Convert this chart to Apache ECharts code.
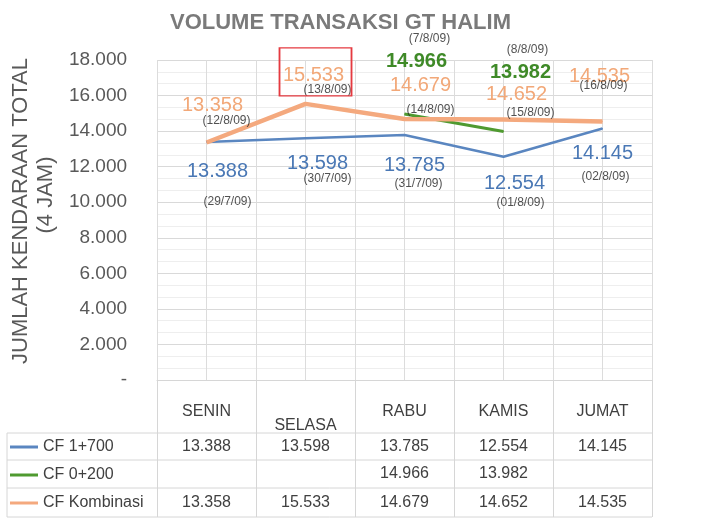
<!DOCTYPE html>
<html>
<head>
<meta charset="utf-8">
<script src="https://cdn.jsdelivr.net/npm/echarts@6/dist/echarts.min.js"></script>
<style>
  html, body { margin: 0; padding: 0; background: #ffffff; }
  #chart { width: 723px; height: 522px; }
</style>
</head>
<body>
<div id="chart"></div>
<script>
// data
var categories = ['SENIN', 'SELASA', 'RABU', 'KAMIS', 'JUMAT'];
var seriesNames = ['CF 1+700', 'CF 0+200', 'CF Kombinasi'];
var cf1700 = [13388, 13598, 13785, 12554, 14145];
var cf0200 = [null, null, 14966, 13982, null];
var cfKombinasi = [13358, 15533, 14679, 14652, 14535];
var cf1700Dates = ['(29/7/09)', '(30/7/09)', '(31/7/09)', '(01/8/09)', '(02/8/09)'];
var cf0200Dates = [null, null, '(7/8/09)', '(8/8/09)', null];
var cfKombinasiDates = ['(12/8/09)', '(13/8/09)', '(14/8/09)', '(15/8/09)', '(16/8/09)'];
var yMin = 0, yMax = 18000, yStep = 2000;

// label placement (pixels, relative to the point)
var blueValOff = [[11, 29], [12, 25], [10, 31], [11, 27], [0, 25]];
var blueDateOff = [[21, 60], [22, 40], [14, 49], [17, 46], [3, 48]];
var orangeValOff = [[6, -37], [8, -28], [16, -34], [13, -25], [-3, -45]];
var orangeDateOff = [[20, -22], [22, -14], [26, -9], [27, -7], [1, -36]];
var greenValOff = [null, null, [12, -52], [17, -59], null];
var greenDateOff = [null, null, [25, -75], [24, -82], null];

var BLUE = '#5a86c0', GREEN = '#4f9a30', ORANGE = '#f4a97e';
var FONT = 'Liberation Sans, Arial, sans-serif';

function fmt(v) {
  if (v == null) return '';
  return String(v).replace(/\B(?=(\d{3})+(?!\d))/g, '.');
}

function valueData(values, offsets) {
  return values.map(function (v, i) {
    if (v == null) return null;
    return { value: v, label: { offset: offsets[i] } };
  });
}

function lineSeries(name, values, offsets, color, width, labelColor, bold) {
  return {
    name: name,
    type: 'line',
    xAxisIndex: 0,
    data: valueData(values, offsets),
    symbol: 'circle',
    symbolSize: 1,
    showSymbol: true,
    connectNulls: false,
    lineStyle: { color: color, width: width },
    itemStyle: { color: color },
    label: {
      show: true,
      position: 'inside',
      formatter: function (p) { return fmt(p.value); },
      fontFamily: FONT,
      fontSize: 20,
      fontWeight: bold ? 'bold' : 'normal',
      color: labelColor
    },
    emphasis: { disabled: true },
    z: 3
  };
}

function dateSeries(values, dates, offsets) {
  return {
    type: 'scatter',
    xAxisIndex: 0,
    data: valueData(values, offsets),
    symbolSize: 1,
    itemStyle: { color: 'rgba(0,0,0,0)' },
    label: {
      show: true,
      position: 'inside',
      formatter: function (p) { return dates[p.dataIndex]; },
      fontFamily: FONT,
      fontSize: 12,
      color: '#262626'
    },
    emphasis: { disabled: true },
    z: 4
  };
}

function tableAxis(values, offset) {
  return {
    type: 'category',
    data: values.map(fmt),
    position: 'bottom',
    offset: offset,
    axisLine: { show: false },
    axisTick: { show: false },
    splitLine: { show: false },
    axisLabel: {
      interval: 0, margin: 0, verticalAlign: 'middle',
      fontFamily: FONT, fontSize: 16, color: '#404040'
    }
  };
}

var chart = echarts.init(document.getElementById('chart'), null, { renderer: 'canvas' });

var borderColor = '#d6d6d6';
var tableLines = [433, 460, 488, 517].map(function (y) {
  return { type: 'line', shape: { x1: 7, y1: y, x2: 652, y2: y }, style: { stroke: borderColor, lineWidth: 1 } };
});
tableLines.push({ type: 'line', shape: { x1: 7, y1: 433, x2: 7, y2: 517 }, style: { stroke: borderColor, lineWidth: 1 } });

var option = {
  backgroundColor: '#ffffff',
  animation: false,
  title: {
    text: 'VOLUME TRANSAKSI GT HALIM',
    left: 165,
    top: 7,
    textStyle: { fontFamily: FONT, fontSize: 22, fontWeight: 'bold', color: '#7a7a7a' }
  },
  legend: {
    data: seriesNames,
    orient: 'vertical',
    left: 10,
    top: 433,
    padding: 0,
    itemGap: 0,
    itemWidth: 28,
    itemHeight: 3,
    icon: 'rect',
    selectedMode: false,
    textStyle: { fontFamily: FONT, fontSize: 16, color: '#404040', lineHeight: 28 }
  },
  grid: { left: 157, right: 71, top: 60, bottom: 142 },
  xAxis: [
    {
      type: 'category',
      data: categories.map(function (c, i) {
        return i === 1 ? { value: c, textStyle: { padding: [6, 0, 0, 0] } } : c;
      }),
      position: 'bottom',
      boundaryGap: true,
      axisLine: { lineStyle: { color: borderColor } },
      axisTick: { show: true, length: 137, lineStyle: { color: borderColor } },
      splitLine: { show: false },
      axisLabel: {
        interval: 0, margin: 32, verticalAlign: 'middle',
        fontFamily: FONT, fontSize: 16, color: '#404040'
      }
    },
    tableAxis(cf1700, 67),
    tableAxis(cf0200, 94),
    tableAxis(cfKombinasi, 123),
    {
      type: 'value',
      min: 0, max: 10, interval: 1,
      position: 'top',
      axisLine: { show: false },
      axisTick: { show: false },
      axisLabel: { show: false },
      splitLine: { show: true, lineStyle: { color: '#dcdcdc' } }
    }
  ],
  yAxis: {
    type: 'value',
    min: yMin, max: yMax, interval: yStep,
    name: '{a|JUMLAH KENDARAAN TOTAL}\n{b|(4 JAM)}',
    nameLocation: 'middle',
    nameGap: 88,
    nameTextStyle: {
      fontFamily: FONT, fontSize: 22, color: '#595959', lineHeight: 25,
      rich: {
        a: { fontFamily: FONT, fontSize: 22, color: '#595959', lineHeight: 25, padding: [0, 0, 0, 18] },
        b: { fontFamily: FONT, fontSize: 22, color: '#595959', lineHeight: 25, padding: [0, 0, 0, 50] }
      }
    },
    axisLine: { show: false },
    axisTick: { show: false },
    axisLabel: {
      margin: 30,
      fontFamily: FONT, fontSize: 19, color: '#595959',
      formatter: function (v) { return v === 0 ? '-' : fmt(v); }
    },
    splitLine: { lineStyle: { color: '#d9d9d9' } },
    minorTick: { show: false, splitNumber: 3 },
    minorSplitLine: { show: true, lineStyle: { color: '#eeeeee' } }
  },
  graphic: tableLines,
  series: [
    lineSeries(seriesNames[0], cf1700, blueValOff, BLUE, 2.5, '#4a78b5', false),
    lineSeries(seriesNames[1], cf0200, greenValOff, GREEN, 3, '#3f8a28', true),
    (function () {
      var s = lineSeries(seriesNames[2], cfKombinasi, orangeValOff, ORANGE, 4.5, '#f2a878', false);
      s.markPoint = {
        silent: true,
        label: { show: false },
        data: [{
          coord: [categories[1], cfKombinasi[1]],
          symbol: 'rect',
          symbolSize: [72, 48],
          symbolOffset: [10, -32],
          itemStyle: { color: 'rgba(0,0,0,0)', borderColor: '#e53a40', borderWidth: 1.5 }
        }]
      };
      return s;
    })(),
    dateSeries(cf1700, cf1700Dates, blueDateOff),
    dateSeries(cf0200, cf0200Dates, greenDateOff),
    dateSeries(cfKombinasi, cfKombinasiDates, orangeDateOff)
  ]
};

chart.setOption(option);
</script>
</body>
</html>
